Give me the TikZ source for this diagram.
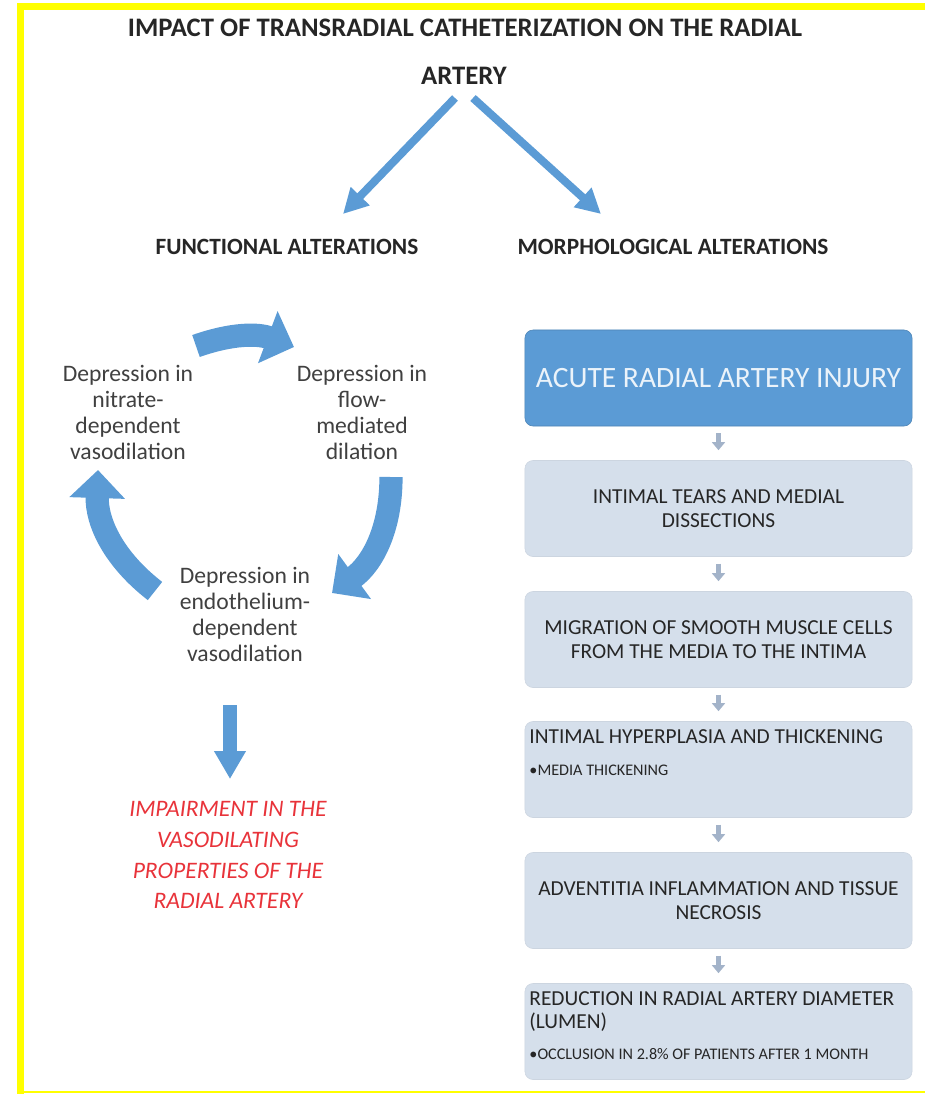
\documentclass[tikz,border=0pt]{standalone}
\usepackage{fontspec}
\setmainfont{Carlito}
\usetikzlibrary{arrows.meta,positioning}
\definecolor{ink}{HTML}{262626}
\definecolor{textgray}{HTML}{404040}
\definecolor{officeblue}{HTML}{5B9BD5}
\definecolor{paleblue}{HTML}{D5DFEB}
\definecolor{arrowgray}{HTML}{A3B3C9}
\definecolor{alertred}{HTML}{E8333A}
\definecolor{frameyellow}{HTML}{FFFF00}

\begin{document}
\begin{tikzpicture}[
  x=0.025cm, y=-0.025cm,
  heading/.style={font=\bfseries\fontsize{19}{22}\selectfont, text=ink, inner sep=0pt},
  subheading/.style={heading, font=\bfseries\fontsize{16.6}{19}\selectfont},
  cycletext/.style={align=center, text=textgray, font=\fontsize{16.8}{18.5}\selectfont, inner sep=0pt},
  flowbox/.style={rounded corners=0.2cm, fill=paleblue, draw=paleblue!90!gray, line width=0.4pt, minimum width=9.675cm, minimum height=2.4cm, align=center, text=ink, font=\fontsize{15.2}{17.5}\selectfont, inner sep=0pt},
  injurybox/.style={flowbox, fill=officeblue, draw=officeblue!85!black, text=white!88!officeblue, font=\fontsize{21}{24}\selectfont},
  toptext/.style={flowbox, align=left},
  splitarrow/.style={-{Triangle[length=0.62cm, width=0.62cm]}, line width=0.2cm, draw=officeblue},
  cyclearrow/.style={-{Triangle[length=0.7cm, width=1.35cm]}, line width=0.58cm, draw=officeblue},
  downarrow/.style={-{Triangle[length=0.7cm, width=0.75cm]}, line width=0.35cm, draw=officeblue},
  tinyarrow/.style={-{Triangle[length=0.2cm, width=0.32cm]}, line width=0.14cm, draw=arrowgray, shorten <=0.17cm, shorten >=0.25cm}
]

\useasboundingbox (0,0) rectangle (925,1094);
\fill[frameyellow] (17,3) rectangle (925,10);
\fill[frameyellow] (17,3) rectangle (24,1094);
\fill[frameyellow] (17,1091) rectangle (925,1093);

\node[heading] (title) at (465,28) {IMPACT OF TRANSRADIAL CATHETERIZATION ON THE RADIAL};
\node[heading] (artery) at (464,76) {ARTERY};

\node[subheading] (func) at (287,247) {FUNCTIONAL ALTERATIONS};
\node[subheading] (morph) at (673,247) {MORPHOLOGICAL ALTERATIONS};

\coordinate (splitL) at (455,98);
\coordinate (splitR) at (473,98);
\coordinate (funcTip) at (343,214);
\coordinate (morphTip) at (601,214);
\draw[splitarrow] (splitL) -- (funcTip);
\draw[splitarrow] (splitR) -- (morphTip);

\node[cycletext] (nitrate) at (128,412) {Depression in\\nitrate-\\dependent\\vasodilation};
\node[cycletext] (flow) at (362,412) {Depression in\\flow-\\mediated\\dilation};
\node[cycletext] (endo) at (245,614) {Depression in\\endothelium-\\dependent\\vasodilation};

\coordinate (c1s) at (196,346);
\coordinate (c1e) at (294,347);
\coordinate (c2s) at (391,477);
\coordinate (c2e) at (332,593);
\coordinate (c3s) at (155,591);
\coordinate (c3e) at (98,470);
\draw[cyclearrow] (c1s) to[bend left=20] (c1e);
\draw[cyclearrow] (c2s) to[bend left=27] (c2e);
\draw[cyclearrow] (c3s) to[bend left=27] (c3e);

\coordinate (dnTop) at (230,705);
\coordinate (dnTip) at (230,779);
\draw[downarrow] (dnTop) -- (dnTip);

\node[align=center, text=alertred, font=\itshape\fontsize{16.8}{22}\selectfont, inner sep=0pt] (impair) at (228,855)
{IMPAIRMENT IN THE\\VASODILATING\\PROPERTIES OF THE\\RADIAL ARTERY};

\node[injurybox] (b1) at (718.5,378) {ACUTE RADIAL ARTERY INJURY};
\node[flowbox] (b2) at (718.5,508.5) {INTIMAL TEARS AND MEDIAL\\DISSECTIONS};
\node[flowbox] (b3) at (718.5,639.5) {MIGRATION OF SMOOTH MUSCLE CELLS\\FROM THE MEDIA TO THE INTIMA};
\node[toptext] (b4) at (718.5,769.5) {\parbox[c][2.0cm][t]{9.45cm}{\raggedright
  {\fontsize{15.2}{17.5}\selectfont INTIMAL HYPERPLASIA AND THICKENING\par}\vspace{9pt}
  {\fontsize{11.5}{14}\selectfont\textbullet MEDIA THICKENING\par}}};
\node[flowbox] (b5) at (718.5,900.5) {ADVENTITIA INFLAMMATION AND TISSUE\\NECROSIS};
\node[toptext] (b6) at (718.5,1031.5) {\parbox[c][2.0cm][t]{9.45cm}{\raggedright
  {\fontsize{15.2}{16.5}\selectfont REDUCTION IN RADIAL ARTERY DIAMETER\\(LUMEN)\par}\vspace{8pt}
  {\fontsize{11.5}{14}\selectfont\textbullet OCCLUSION IN 2.8\% OF PATIENTS AFTER 1 MONTH\par}}};

\draw[tinyarrow] (b1) -- (b2);
\draw[tinyarrow] (b2) -- (b3);
\draw[tinyarrow] (b3) -- (b4);
\draw[tinyarrow] (b4) -- (b5);
\draw[tinyarrow] (b5) -- (b6);

\end{tikzpicture}
\end{document}
